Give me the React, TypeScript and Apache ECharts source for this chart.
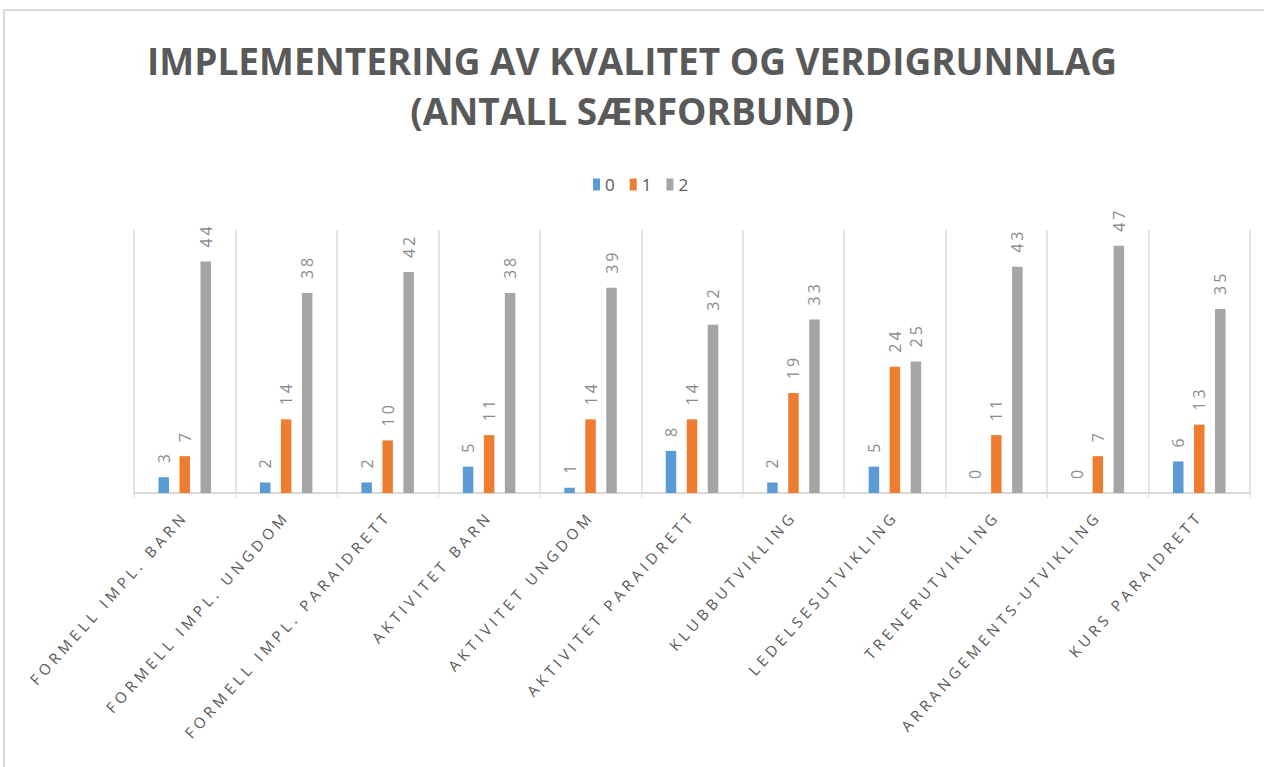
import React, { useEffect, useRef } from "react";
import * as echarts from "echarts";

const categories = [
  "FORMELL IMPL. BARN",
  "FORMELL IMPL. UNGDOM",
  "FORMELL IMPL. PARAIDRETT",
  "AKTIVITET BARN",
  "AKTIVITET UNGDOM",
  "AKTIVITET PARAIDRETT",
  "KLUBBUTVIKLING",
  "LEDELSESUTVIKLING",
  "TRENERUTVIKLING",
  "ARRANGEMENTS-UTVIKLING",
  "KURS PARAIDRETT",
];
const seriesNames = ["0", "1", "2"];
const values0 = [3, 2, 2, 5, 1, 8, 2, 5, 0, 0, 6];
const values1 = [7, 14, 10, 11, 14, 14, 19, 24, 11, 7, 13];
const values2 = [44, 38, 42, 38, 39, 32, 33, 25, 43, 47, 35];
const colors = ["#5B9BD5", "#ED7D31", "#A5A5A5"];
const titleText = "IMPLEMENTERING AV KVALITET OG VERDIGRUNNLAG\n(ANTALL SÆRFORBUND)";

const css = `
.chart-host svg text[style*="15px"] { letter-spacing: 4.2px; }
.chart-host svg text[style*="16px"] { letter-spacing: 3px; }
`;

export default function App() {
  const ref = useRef<HTMLDivElement>(null);
  useEffect(() => {
    if (!ref.current) return;
    const chart = echarts.init(ref.current, null, { renderer: "svg" });
    const data = [values0, values1, values2];
    chart.setOption({
      animation: false,
      backgroundColor: "#ffffff",
      color: colors,
      title: {
        text: titleText,
        left: "center",
        top: 30,
        textStyle: {
          fontFamily: "Open Sans",
          fontWeight: "bold",
          fontSize: 37,
          lineHeight: 50,
          color: "#595959",
        },
      },
      legend: {
        data: seriesNames,
        top: 171,
        left: 588,
        itemWidth: 7,
        itemHeight: 12,
        itemGap: 15,
        icon: "rect",
        textStyle: { fontFamily: "Open Sans", fontSize: 17, color: "#595959" },
      },
      graphic: [
        {
          type: "rect",
          shape: { x: 4, y: 10, width: 1400, height: 900 },
          style: { fill: "none", stroke: "#d9d9d9", lineWidth: 2 },
          silent: true,
        },
      ],
      grid: { left: 134, right: 14, top: 230, height: 263, containLabel: false },
      xAxis: {
        type: "category",
        data: categories,
        boundaryGap: true,
        axisLine: { lineStyle: { color: "#d9d9d9", width: 2 } },
        axisTick: { show: true, length: 5, lineStyle: { color: "#d9d9d9" } },
        splitLine: { show: true, lineStyle: { color: "#d9d9d9", width: 1.5 } },
        axisLabel: {
          interval: 0,
          rotate: 48,
          margin: 20,
          fontFamily: "Open Sans",
          fontSize: 15,
          color: "#595959",
        },
      },
      yAxis: {
        type: "value",
        min: 0,
        max: 50,
        show: false,
        splitLine: { show: false },
      },
      series: data.map((d, i) => ({
        name: seriesNames[i],
        type: "bar",
        data: d,
        barWidth: 10.5,
        barGap: "100%",
        itemStyle: { color: colors[i] },
        label: {
          show: true,
          position: "top",
          rotate: 90,
          align: "left",
          verticalAlign: "middle",
          distance: 14,
          fontFamily: "Open Sans",
          fontSize: 16,
          color: "#8c8c8c",
        },
      })),
    });
    return () => chart.dispose();
  }, []);
  return (
    <>
      <style>{css}</style>
      <div
        ref={ref}
        className="chart-host"
        style={{ position: "fixed", left: 0, top: 0, width: 1264, height: 767 }}
      />
    </>
  );
}
